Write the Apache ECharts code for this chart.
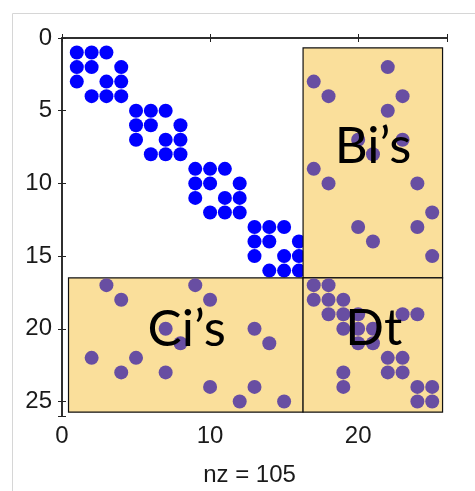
<!DOCTYPE html>
<html><head><meta charset="utf-8">
<script src="https://cdn.jsdelivr.net/npm/echarts@6/dist/echarts.min.js"></script>
<style>html,body{margin:0;padding:0;background:#fff}#c{width:475px;height:491px}</style>
</head><body><div id="c"></div>
<script>
// Sparse matrix nonzeros as [column, row] (1-based indices)
const diagBlocks = [
  [1,1],[2,1],[3,1],[1,2],[2,2],[4,2],[1,3],[3,3],[4,3],[2,4],[3,4],[4,4],
  [5,5],[6,5],[7,5],[5,6],[6,6],[8,6],[5,7],[7,7],[8,7],[6,8],[7,8],[8,8],
  [9,9],[10,9],[11,9],[9,10],[10,10],[12,10],[9,11],[11,11],[12,11],[10,12],[11,12],[12,12],
  [13,13],[14,13],[15,13],[13,14],[14,14],[16,14],[13,15],[15,15],[16,15],[14,16],[15,16],[16,16]
];
const biEntries = [
  [22,2],[17,3],[18,4],[23,4],[22,5],[20,7],[23,7],[21,8],
  [17,9],[18,10],[24,10],[25,12],[20,13],[24,13],[21,14],[25,15]
];
const ciEntries = [
  [3,17],[9,17],[4,18],[10,18],[7,20],[13,20],[8,21],[14,21],
  [2,22],[5,22],[4,23],[7,23],[10,24],[13,24],[12,25],[15,25]
];
const dtEntries = [
  [17,17],[18,17],[17,18],[18,18],[19,18],[18,19],[19,19],[20,19],[23,19],[24,19],
  [19,20],[20,20],[21,20],[20,21],[21,21],[22,22],[23,22],[19,23],[22,23],[23,23],
  [19,24],[24,24],[25,24],[24,25],[25,25]
];
// Partition blocks: [xStart, yStart, xEnd, yEnd] in matrix units
const regionNames = ["Bi\u2019s", "Ci\u2019s", "Dt"];
const regionBounds = [
  [16.28, 0.68, 25.7, 16.5],
  [0.44, 16.5, 16.28, 25.74],
  [16.28, 16.5, 25.7, 25.74]
];
const regionLabelAt = [[21.0, 7.5], [8.42, 20.05], [21.05, 20.0]];
const xTicks = [0, 10, 20];
const yTicks = [0, 5, 10, 15, 20, 25];
const xLabel = "nz = 105";

const chart = echarts.init(document.getElementById('c'), null, {renderer: 'canvas'});
const tickFont = {fontFamily: 'Liberation Sans, Arial, sans-serif', fontSize: 24, color: '#1a1a1a'};
const axisCommon = {
  min: 0, max: 26, type: 'value',
  axisLine: {show: true, lineStyle: {color: '#222', width: 1.5}},
  axisTick: {show: true, inside: true, length: 4, lineStyle: {color: '#222'}},
  splitLine: {show: false}
};
chart.setOption({
  animation: false,
  backgroundColor: '#fff',
  grid: {left: 62, top: 38, width: 385, height: 378, containLabel: false, outerBoundsMode: 'none'},
  graphic: [{type: 'rect', left: 10, top: 11, z: -10, shape: {width: 480, height: 490},
    style: {fill: 'none', stroke: '#d6d6d6', lineWidth: 1}}],
  xAxis: [
    Object.assign({}, axisCommon, {position: 'bottom', interval: 10,
      axisLabel: Object.assign({margin: 8, formatter: v => xTicks.includes(v) ? String(v) : ''}, tickFont),
      name: xLabel, nameLocation: 'middle', nameGap: 47,
      nameTextStyle: Object.assign({padding: [0, 10, 0, 0]}, tickFont)}),
    Object.assign({}, axisCommon, {position: 'top', interval: 10, axisLabel: {show: false}})
  ],
  yAxis: [
    Object.assign({}, axisCommon, {inverse: true, position: 'left', interval: 5,
      axisLabel: Object.assign({margin: 10, formatter: v => yTicks.includes(v) ? String(v) : ''}, tickFont)}),
    Object.assign({}, axisCommon, {inverse: true, position: 'right', interval: 5, axisLabel: {show: false}})
  ],
  series: [
    {type: 'scatter', data: diagBlocks, symbol: 'circle', symbolSize: 14,
      itemStyle: {color: '#0000FF', opacity: 1}, z: 2, silent: true},
    {type: 'custom', z: 3, clip: false, silent: true,
      data: regionBounds,
      renderItem: (params, api) => {
        const p0 = api.coord([api.value(0), api.value(1)]);
        const p1 = api.coord([api.value(2), api.value(3)]);
        return {type: 'rect', shape: {x: Math.min(p0[0], p1[0]), y: Math.min(p0[1], p1[1]),
          width: Math.abs(p1[0] - p0[0]), height: Math.abs(p1[1] - p0[1])},
          style: {fill: '#FADF9B', stroke: '#111', lineWidth: 1.2}};
      }},
    {type: 'scatter', data: biEntries.concat(ciEntries, dtEntries), symbol: 'circle', symbolSize: 14,
      itemStyle: {color: '#684EA2', opacity: 1}, z: 4, silent: true},
    {type: 'custom', z: 5, clip: false, silent: true,
      data: regionLabelAt.map((p, i) => [p[0], p[1], i]),
      renderItem: (params, api) => {
        const p = api.coord([api.value(0), api.value(1)]);
        return {type: 'text', x: p[0], y: p[1], style: {text: regionNames[api.value(2)],
          fontFamily: 'Lato, Carlito, sans-serif', fontSize: 51, fill: '#000',
          align: 'center', verticalAlign: 'middle'}};
      }}
  ]
});
</script></body></html>
